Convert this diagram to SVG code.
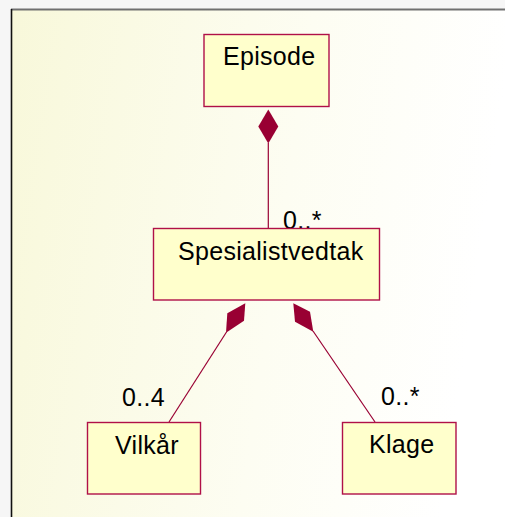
<svg xmlns="http://www.w3.org/2000/svg" width="505" height="517" viewBox="0 0 505 517">
  <defs>
    <linearGradient id="bg" x1="0" y1="0" x2="1" y2="0.15">
      <stop offset="0" stop-color="#f8f8da"/>
      <stop offset="0.6" stop-color="#fdfdf2"/>
      <stop offset="1" stop-color="#ffffff"/>
    </linearGradient>
  </defs>
  <style>
    .box { fill: #ffffcc; stroke: #b01048; stroke-width: 1.4; }
    .lbl { font-family: "Liberation Sans", Arial, sans-serif; font-size: 25px; letter-spacing: 0.3px; fill: #000000; }
    .conn { stroke: #990033; stroke-width: 1.2; fill: none; }
    .dia { fill: #990033; stroke: none; }
  </style>
  <rect x="0" y="0" width="505" height="517" fill="#f6f6f6"/>
  <rect x="11" y="9" width="494" height="508" fill="url(#bg)"/>
  <line x1="11" y1="9.5" x2="505" y2="9.5" stroke="#707070" stroke-width="2"/>
  <line x1="11.5" y1="9" x2="11.5" y2="517" stroke="#111111" stroke-width="1.6"/>

  <g id="connectors">
    <line class="conn" x1="268.3" y1="143" x2="268.3" y2="228"/>
    <polygon class="dia" points="268.3,109.5 278.3,126.5 268.3,143.5 258.3,126.5"/>
    <line class="conn" x1="226.5" y1="332" x2="169" y2="422"/>
    <polygon class="dia" points="245.3,303.3 244,320.7 226,332.7 227.3,313.3"/>
    <line class="conn" x1="313" y1="331" x2="375" y2="422"/>
    <polygon class="dia" points="293.3,303.3 310,311.7 313.3,331.7 295,321.7"/>
    <text class="lbl" x="283" y="229">0..*</text>
    <text class="lbl" x="122" y="406">0..4</text>
    <text class="lbl" x="381" y="405">0..*</text>
  </g>

  <g id="episode">
    <rect class="box" x="204" y="34.5" width="125" height="72"/>
    <text class="lbl" x="223" y="65">Episode</text>
  </g>
  <g id="spesialistvedtak">
    <rect class="box" x="153.5" y="228.5" width="226" height="71.5"/>
    <text class="lbl" x="178" y="260">Spesialistvedtak</text>
  </g>
  <g id="vilkar">
    <rect class="box" x="87.5" y="422.5" width="113" height="71.5"/>
    <text class="lbl" x="115" y="454">Vilkår</text>
  </g>
  <g id="klage">
    <rect class="box" x="342.5" y="422.5" width="113.5" height="71.5"/>
    <text class="lbl" x="369" y="453">Klage</text>
  </g>
</svg>
